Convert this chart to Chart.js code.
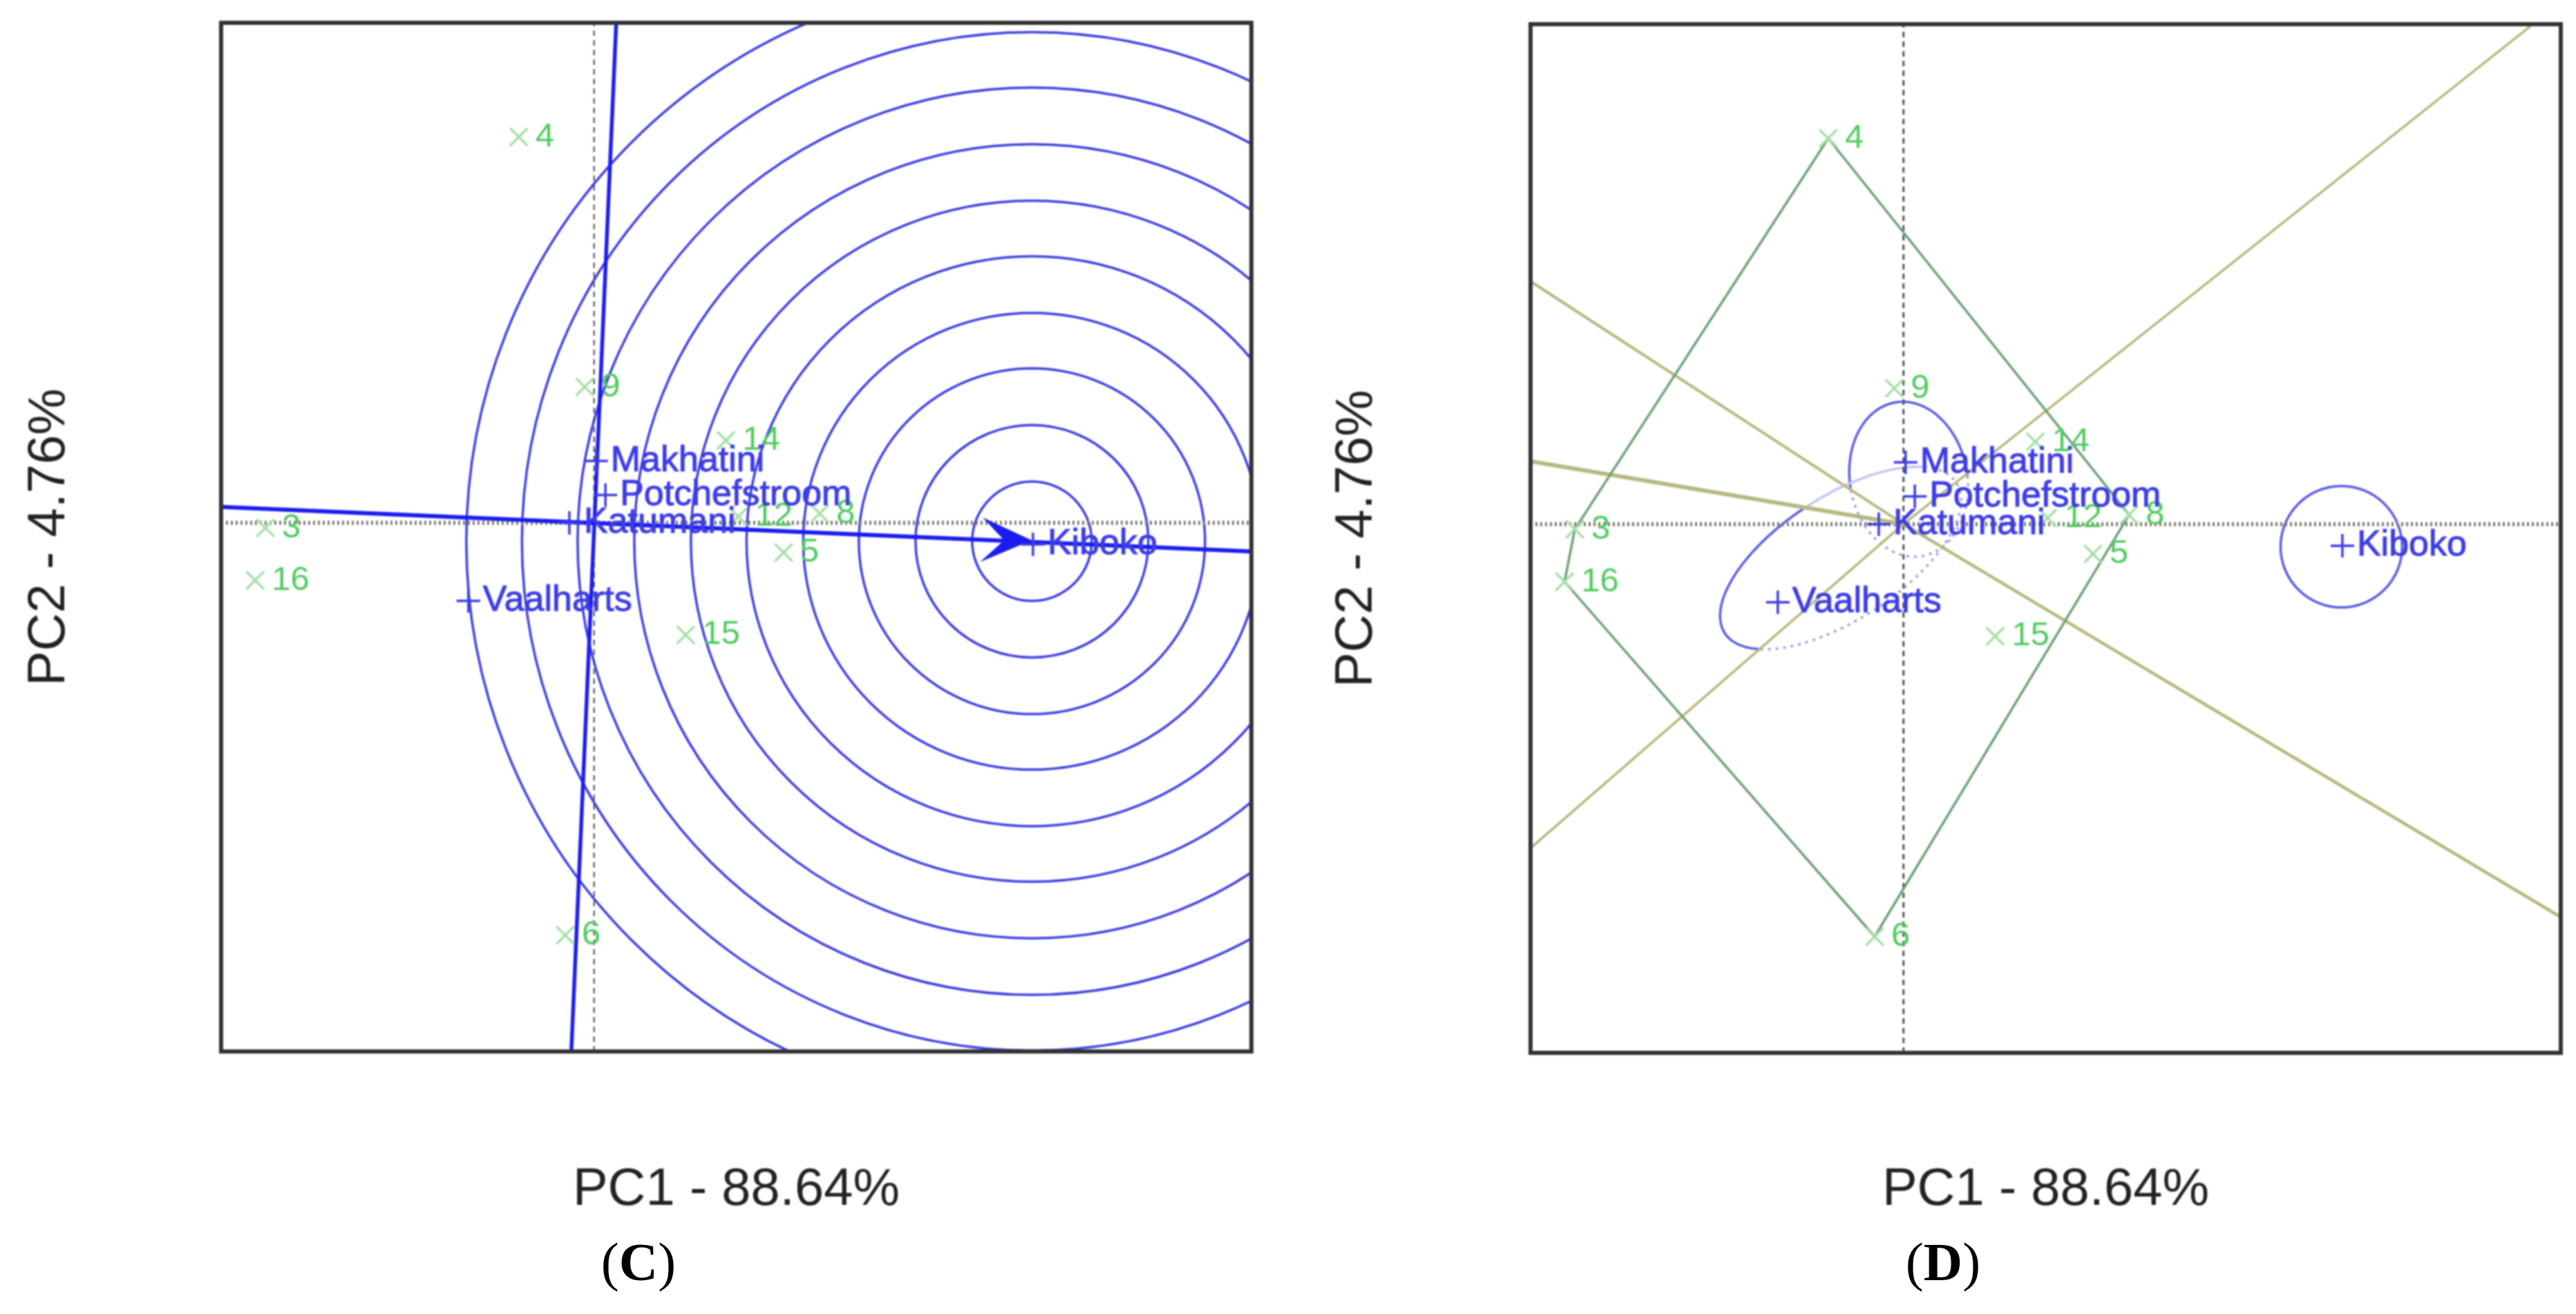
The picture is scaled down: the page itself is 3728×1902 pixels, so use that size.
<!DOCTYPE html>
<html>
<head>
<meta charset="utf-8">
<title>GGE biplots</title>
<script src="https://cdn.jsdelivr.net/npm/chart.js"></script>
<style>
  html, body { margin: 0; padding: 0; background: #fff; }
  body { position: relative; width: 3728px; height: 1902px; overflow: hidden; }
  canvas { position: absolute; top: 0; filter: blur(1.1px); }
  .panel { position: absolute; top: 1782px; font: 78px "Liberation Serif", serif; color: #000; transform: translateX(-50%); }
</style>
</head>
<body>
<canvas id="chartC" width="1864" height="1902" style="left:0"></canvas>
<canvas id="chartD" width="1864" height="1902" style="left:1864px"></canvas>
<div class="panel" style="left:924px">(<b>C</b>)</div>
<div class="panel" style="left:2812px">(<b>D</b>)</div>

<script>
// values, in biplot units (origin on the dotted lines)
const xMin = -3.62, xMax = 6.38;
const yMin = -5.14, yMax = 4.86;

const envNames = ['4', '9', '14', '12', '8', '5', '15', '3', '16', '6'];
const envX = [-0.73, -0.09, 1.28, 1.40, 2.19, 1.84, 0.89, -3.19, -3.29, -0.28];
const envY = [3.75, 1.32, 0.80, 0.06, 0.09, -0.29, -1.09, -0.05, -0.56, -4.01];

const genNames = ['Makhatini', 'Potchefstroom', 'Katumani', 'Vaalharts', 'Kiboko'];
const genX = [0.02, 0.11, -0.24, -1.22, 4.26];
const genY = [0.60, 0.27, 0.00, -0.76, -0.21];

// panel C: ideal genotype rings and ATC axes
const ringCentre = [4.25, -0.18];
const ringRadii = [0.58, 1.13, 1.68, 2.22, 2.77, 3.31, 3.86, 4.41, 4.95, 5.49];
const atcX = [-3.62, 6.38];
const atcY = [0.154, -0.28];
const ordX = [0.215, -0.221];
const ordY = [4.86, -5.14];
const arrowX = [4.23, 3.80, 3.99, 3.78, 4.23];
const arrowY = [-0.17, 0.03, -0.17, -0.36, -0.17];

// panel D: polygon vertices (index into env arrays) and sector rays from origin
const hullOrder = [0, 4, 9, 8, 7, 0];
const rayEndX = [6.11, -3.62, -3.62, -3.62, 6.38];
const rayEndY = [4.86, 2.36, 0.61, -3.15, -3.82];
const rayWidths = [3.5, 4, 6, 3.5, 4.5];

// panel D ovals: Kiboko, Makhatini, Vaalharts
const ovalCx = [4.25, 0.05, -0.61];
const ovalCy = [-0.22, 0.436, -0.33];
const ovalRx = [0.59, 0.57, 1.34];
const ovalRy = [0.59, 0.758, 0.60];
const ovalRot = [0, -10, -33];
const ovalFrom = [0, 181, 148];
const ovalTo = [360, 365, 268];
const ovalFaintTo = [360, 365, 330];

const blue = '#3c3ce6';
const green = '#4fcb5f';
const toXY = (xs, ys) => xs.map((x, i) => ({ x: x, y: ys[i] }));

function lineSet(data, color, width, dash) {
  return { data: data, showLine: true, borderColor: color, borderWidth: width, borderDash: dash || [], pointRadius: 0, fill: false };
}

function zeroLines(vWidth, vColor) {
  return [
    lineSet(toXY([xMin, xMax], [0, 0]), '#7d7d72', 6, [3, 4]),
    lineSet(toXY([0, 0], [yMin, yMax]), vColor, vWidth, [8, 6]),
  ];
}

const markerSets = [
  { data: toXY(envX, envY), pointStyle: 'crossRot', pointRadius: 18, pointBorderColor: '#a6dfa8', pointBorderWidth: 3.5, showLine: false, names: envNames, nameColor: green, nameFont: '49px "Liberation Sans"', nameGap: 24 },
  { data: toXY(genX, genY), pointStyle: 'cross', pointRadius: 17, pointBorderColor: blue, pointBorderWidth: 3.5, showLine: false, names: genNames, nameColor: blue, nameFont: '52px "Liberation Sans"', nameGap: 21, nameStroke: 1 },
];

const framePlugin = {
  id: 'frame',
  beforeDatasetsDraw(chart, args, opts) {
    const { ctx, chartArea: a, scales: { x, y } } = chart;
    const pxX = x.getPixelForValue(1) - x.getPixelForValue(0);
    const pxY = y.getPixelForValue(0) - y.getPixelForValue(1);
    ctx.save();
    ctx.beginPath();
    ctx.rect(a.left, a.top, a.width, a.height);
    ctx.clip();
    ctx.strokeStyle = '#3e3ee4';
    ctx.lineWidth = 3.5;
    (opts.rings || []).forEach(r => {
      ctx.beginPath();
      ctx.ellipse(x.getPixelForValue(ringCentre[0]), y.getPixelForValue(ringCentre[1]), r * pxX, r * pxY, 0, 0, Math.PI * 2);
      ctx.stroke();
    });
    if (opts.ovals) {
      const rad = Math.PI / 180;
      ovalCx.forEach((cx, i) => {
        const shape = [x.getPixelForValue(cx), y.getPixelForValue(ovalCy[i]), ovalRx[i] * pxX, ovalRy[i] * pxY, ovalRot[i] * rad];
        ctx.beginPath();
        ctx.ellipse(...shape, ovalFrom[i] * rad, ovalTo[i] * rad);
        ctx.strokeStyle = '#5a5ae4';
        ctx.stroke();
        ctx.beginPath();
        ctx.ellipse(...shape, ovalTo[i] * rad, ovalFaintTo[i] * rad);
        ctx.strokeStyle = '#c4c4f4';
        ctx.stroke();
        ctx.beginPath();
        ctx.ellipse(...shape, ovalFaintTo[i] * rad, (ovalFrom[i] + 360) * rad);
        ctx.setLineDash([4, 7]);
        ctx.strokeStyle = '#a0a0ea';
        ctx.stroke();
        ctx.setLineDash([]);
      });
    }
    ctx.restore();
  },
  afterDatasetsDraw(chart) {
    const { ctx, chartArea: a, scales: { x, y } } = chart;
    ctx.save();
    ctx.textBaseline = 'middle';
    chart.data.datasets.forEach(ds => {
      if (!ds.names) return;
      ctx.font = ds.nameFont;
      ctx.fillStyle = ds.nameColor;
      ctx.strokeStyle = ds.nameColor;
      ctx.lineWidth = ds.nameStroke || 0;
      ds.names.forEach((name, i) => {
        const px = x.getPixelForValue(ds.data[i].x) + ds.nameGap;
        const py = y.getPixelForValue(ds.data[i].y);
        ctx.fillText(name, px, py);
        if (ds.nameStroke) ctx.strokeText(name, px, py);
      });
    });
    ctx.strokeStyle = '#333333';
    ctx.lineWidth = 6;
    ctx.strokeRect(a.left, a.top, a.width, a.height);
    ctx.restore();
  }
};

function makeChart(id, datasets, pluginOpts, box) {
  return new Chart(document.getElementById(id), {
    type: 'scatter',
    data: { datasets: datasets },
    plugins: [framePlugin],
    options: {
      responsive: false,
      animation: false,
      devicePixelRatio: 1,
      layout: { padding: { top: box.top, right: box.right, left: 0, bottom: 0 } },
      plugins: { legend: { display: false }, tooltip: { enabled: false }, frame: pluginOpts },
      scales: {
        x: {
          type: 'linear', min: xMin, max: xMax,
          grid: { display: false }, border: { display: false }, ticks: { display: false },
          title: { display: true, text: 'PC1 - 88.64%', color: '#222', font: { family: 'Liberation Sans', size: 76 }, padding: { top: 0, bottom: 133 } },
          afterFit(s) { s.height = box.bottom; }
        },
        y: {
          type: 'linear', min: yMin, max: yMax,
          grid: { display: false }, border: { display: false }, ticks: { display: false },
          title: { display: true, text: 'PC2 - 4.76%', color: '#222', font: { family: 'Liberation Sans', size: 76 }, padding: { top: box.titleLeft, bottom: 0 } },
          afterFit(s) { s.width = box.left; }
        }
      }
    }
  });
}

const axisLines = [
  lineSet(toXY(atcX, atcY), '#1c1cf0', 6),
  lineSet(toXY(ordX, ordY), '#1c1cf0', 5.5),
  Object.assign(lineSet(toXY(arrowX, arrowY), '#1c1cf0', 2), { fill: 'shape', backgroundColor: '#1c1cf0' }),
];

const hullLine = lineSet(hullOrder.map(i => ({ x: envX[i], y: envY[i] })), '#6f9f76', 3.5);
const rayLines = rayEndX.map((x, i) => lineSet([{ x: 0, y: 0 }, { x: x, y: rayEndY[i] }], '#b8b87e', rayWidths[i]));

makeChart('chartC', [...markerSets, ...axisLines, ...zeroLines(2, '#444444')], { rings: ringRadii }, { top: 33, right: 53, bottom: 380, left: 320, titleLeft: 26 });
makeChart('chartD', [...markerSets, hullLine, ...rayLines, ...zeroLines(3, '#555555')], { ovals: true }, { top: 35, right: 22, bottom: 378, left: 351, titleLeft: 54 });
</script>
</body>
</html>
